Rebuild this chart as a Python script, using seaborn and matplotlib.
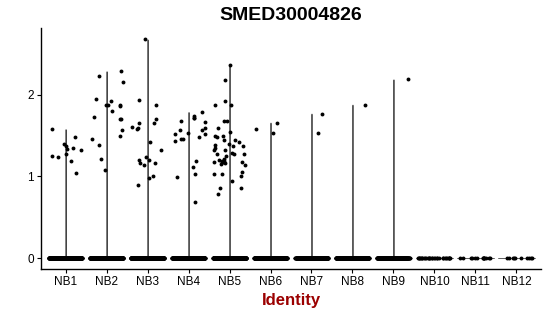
import numpy as np
import pandas as pd
import matplotlib
matplotlib.use("Agg")
import matplotlib.pyplot as plt
import seaborn as sns

groups = ["NB1", "NB2", "NB3", "NB4", "NB5", "NB6", "NB7", "NB8", "NB9", "NB10", "NB11", "NB12"]
zero_counts = [400, 500, 500, 450, 450, 260, 300, 300, 260, 30, 14, 10]

nb1 = [1.58, 1.48, 1.40, 1.35, 1.32, 1.34, 1.37, 1.25, 1.24, 1.27, 1.19, 1.04]
nb2 = [2.29, 2.16, 2.23, 1.95, 1.87, 1.88, 1.80, 1.73, 1.92, 1.88, 1.86, 1.71, 1.70,
       1.57, 1.46, 1.49, 1.38, 1.21, 1.08]
nb3 = [2.68, 1.94, 1.87, 1.59, 1.61, 1.65, 1.71, 1.66, 1.58, 1.42, 1.32, 1.20, 1.20,
       1.16, 1.17, 1.24, 1.14, 1.01, 0.98, 0.90]
nb4 = [1.79, 1.68, 1.67, 1.72, 1.72, 1.74, 1.59, 1.57, 1.52, 1.46, 1.44, 1.57, 1.52,
       1.53, 1.48, 1.46, 1.19, 1.11, 1.03, 0.99, 0.69]
nb5 = [2.37, 2.18, 1.92, 1.87, 1.88, 1.68, 1.68, 1.60, 1.54, 1.49, 1.49, 1.48, 1.45,
       1.45, 1.42, 1.40, 1.39, 1.37, 1.37, 1.35, 1.33, 1.32, 1.29, 1.28, 1.28, 1.25,
       1.28, 1.22, 1.19, 1.18, 1.18, 1.19, 1.15, 1.17, 1.20, 1.18, 1.18, 1.14, 1.06,
       1.03, 1.00, 1.03, 0.95, 0.86, 0.86, 0.79]
nb6 = [1.58, 1.66, 1.53]
nb7 = [1.77, 1.53]
nb8 = [1.88]
nb9 = [2.19]
nb10 = []
nb11 = []
nb12 = []
nonzero = [nb1, nb2, nb3, nb4, nb5, nb6, nb7, nb8, nb9, nb10, nb11, nb12]

ident, expr = [], []
for g, nz, n0 in zip(groups, nonzero, zero_counts):
    vals = list(nz) + [0.0] * n0
    ident += [g] * len(vals)
    expr += vals
df = pd.DataFrame({"Identity": ident, "expr": expr})

sns.set_style("ticks")
plt.rcParams["font.family"] = ["Liberation Sans", "DejaVu Sans"]

fig = plt.figure(figsize=(5.5, 3.16), dpi=100)
ax = fig.add_axes([41 / 550, 47 / 316, 500 / 550, 241 / 316])

sns.violinplot(data=df, x="Identity", y="expr", order=groups, ax=ax,
               bw_method=1e-4, cut=0, density_norm="width", inner=None,
               width=0.9, linewidth=0.6, color="white", linecolor="#444444",
               saturation=1)
np.random.seed(7)
sns.stripplot(data=df, x="Identity", y="expr", order=groups, ax=ax,
              jitter=0.4, size=2.8, color="black", linewidth=0, zorder=5)

ax.set_xlim(-0.6, 11.6)
ax.set_ylim(-0.1345, 2.82)
ax.set_yticks([0, 1, 2])
ax.set_yticklabels(["0", "1", "2"])
for s in ["top", "right"]:
    ax.spines[s].set_visible(False)
for s in ["left", "bottom"]:
    ax.spines[s].set_color("black")
    ax.spines[s].set_linewidth(1.0)
ax.tick_params(axis="both", colors="black", labelcolor="black", labelsize=8.5,
               length=3, width=0.8, pad=2)
ax.set_ylabel("")
ax.set_xlabel("Identity", fontsize=12, fontweight="bold", color="#9B0000", labelpad=4)
ax.set_title("SMED30004826", fontsize=14, fontweight="bold", color="black", pad=6)

fig.savefig("out.png", dpi=100)
